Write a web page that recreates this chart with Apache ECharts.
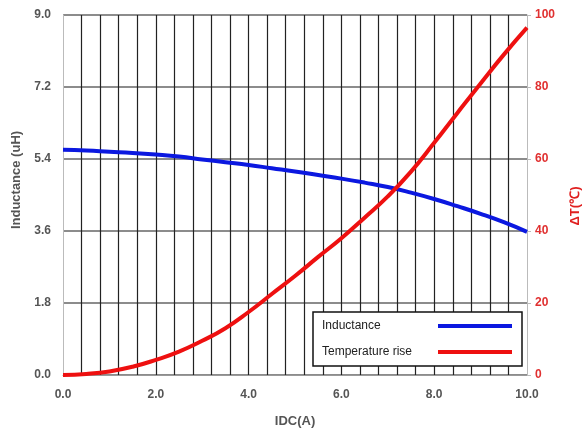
<!DOCTYPE html>
<html>
<head>
<meta charset="utf-8">
<script src="https://cdn.jsdelivr.net/npm/echarts@6/dist/echarts.min.js"></script>
<style>html,body{margin:0;padding:0;background:#fff}#c{width:584px;height:435px}</style>
</head>
<body>
<div id="c"></div>
<script>
const currentA = [0,0.5,1.0,1.5,2.0,2.5,3.0,3.5,4.0,4.5,5.0,5.5,6.0,6.5,7.0,7.5,8.0,8.5,9.0,9.5,10.0];
const inductance = [5.63,5.61,5.58,5.55,5.51,5.46,5.39,5.32,5.25,5.17,5.09,5.00,4.91,4.81,4.70,4.56,4.40,4.22,4.03,3.82,3.58];
const tempRise = [0,0.3,1.0,2.3,4.2,6.5,9.5,13.0,17.5,22.5,27.5,32.8,38.0,43.7,49.6,56.5,64.5,72.8,81.0,89.0,96.5];
const xTickLabels = ['0.0','2.0','4.0','6.0','8.0','10.0'];
const leftTickLabels = ['0.0','1.8','3.6','5.4','7.2','9.0'];
const rightTickLabels = ['0','20','40','60','80','100'];
const seriesNames = ['Inductance','Temperature rise'];

const chart = echarts.init(document.getElementById('c'), null, {renderer:'canvas'});
const font = '"Liberation Sans", Arial, sans-serif';
chart.setOption({
  backgroundColor:'#fff',
  animation:false,
  grid:{left:63,right:57,top:15,bottom:60,containLabel:false,outerBoundsMode:'none'},
  legend:{
    orient:'vertical', left:313, top:312, align:'right',
    data: seriesNames,
    backgroundColor:'#fff', borderColor:'#111', borderWidth:1.5, borderRadius:0,
    padding:[8,10,8,9], itemGap:14, itemWidth:74, itemHeight:4,
    icon:'rect',
    formatter:function(n){return '{t|'+n+'}';},
    textStyle:{fontFamily:font,fontSize:12,color:'#222',
      rich:{t:{width:111,align:'left',fontFamily:font,fontSize:12,color:'#222',lineHeight:14}}}
  },
  xAxis:{
    type:'value', min:0, max:10, interval:0.4,
    name:'IDC(A)', nameLocation:'middle', nameGap:40,
    nameTextStyle:{fontFamily:font,fontSize:13,fontWeight:'bold',color:'#555'},
    axisLine:{show:true,lineStyle:{color:'#999',width:1}},
    axisTick:{show:false},
    axisLabel:{margin:14,fontFamily:font,fontSize:12,fontWeight:'bold',color:'#555',
      formatter:function(v){const i=Math.round(v/2); return Math.abs(v-2*i)<1e-6 ? xTickLabels[i] : '';}},
    splitLine:{show:true,showMinLine:false,showMaxLine:false,lineStyle:{color:'#222',width:1.2}}
  },
  yAxis:[{
    type:'value', min:0, max:9, interval:1.8, position:'left',
    name:'Inductance (uH)', nameLocation:'middle', nameGap:39, nameRotate:90,
    nameTextStyle:{fontFamily:font,fontSize:13,fontWeight:'bold',color:'#555',padding:[0,0,0,30]},
    axisLine:{show:true,lineStyle:{color:'#bbb'}},
    axisTick:{show:false},
    axisLabel:{margin:12,fontFamily:font,fontSize:12,fontWeight:'bold',color:'#555',
      formatter:function(v){return leftTickLabels[Math.round(v/1.8)];}},
    splitLine:{show:true,lineStyle:{color:'#666',width:1.5}}
  },{
    type:'value', min:0, max:100, interval:20, position:'right',
    name:'ΔT(℃)', nameLocation:'middle', nameGap:42, nameRotate:90,
    nameTextStyle:{fontFamily:font,fontSize:13,fontWeight:'bold',color:'#e02020',padding:[0,0,0,-22]},
    axisLine:{show:true,lineStyle:{color:'#bbb'}},
    axisTick:{show:true,length:4,lineStyle:{color:'#bbb'}},
    axisLabel:{margin:8,fontFamily:font,fontSize:12,fontWeight:'bold',color:'#e03030',
      formatter:function(v){return rightTickLabels[Math.round(v/20)];}},
    splitLine:{show:false}
  }],
  series:[{
    name:seriesNames[0], type:'line', yAxisIndex:0, smooth:true, showSymbol:false, symbol:'none',
    data: currentA.map((x,i)=>[x,inductance[i]]),
    lineStyle:{color:'#0b18e0',width:4}, itemStyle:{color:'#0b18e0'}, z:3
  },{
    name:seriesNames[1], type:'line', yAxisIndex:1, smooth:true, showSymbol:false, symbol:'none',
    data: currentA.map((x,i)=>[x,tempRise[i]]),
    lineStyle:{color:'#ee1010',width:4}, itemStyle:{color:'#ee1010'}, z:4
  }]
});
</script>
</body>
</html>
